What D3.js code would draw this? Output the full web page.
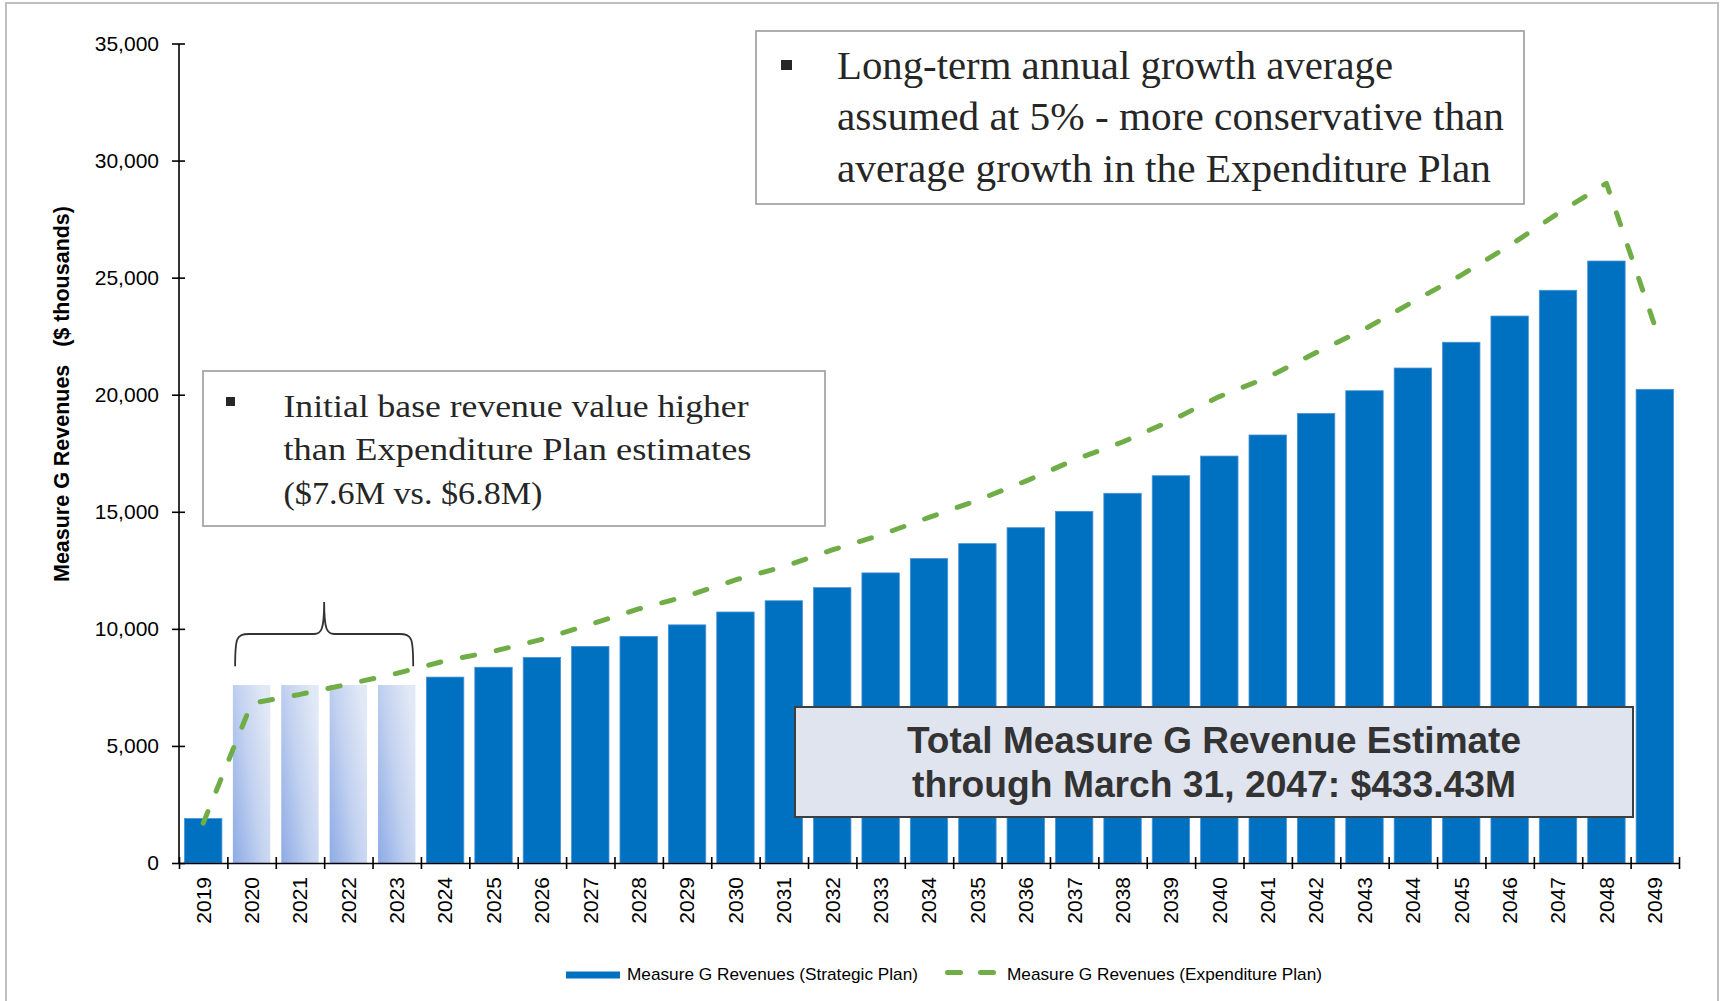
<!DOCTYPE html>
<html>
<head>
<meta charset="utf-8">
<script src="https://cdn.jsdelivr.net/npm/d3@7"></script>
<style>
  html, body { margin: 0; padding: 0; background: #fff; }
  svg { display: block; }
  text { font-family: "Liberation Sans", Arial, sans-serif; }
  .serif { font-family: "Liberation Serif", "Times New Roman", serif; fill: #262626; }
</style>
</head>
<body>
<svg id="chart" width="1723" height="1001"></svg>
<script>
// ---------------- data ----------------
const years = ["2019","2020","2021","2022","2023","2024","2025","2026","2027","2028","2029","2030","2031","2032","2033","2034","2035","2036","2037","2038","2039","2040","2041","2042","2043","2044","2045","2046","2047","2048","2049"];
const strategicPlan = [1900,7600,7600,7600,7600,7940,8360,8780,9250,9680,10170,10720,11200,11760,12390,13000,13640,14320,15020,15790,16540,17380,18280,19200,20170,21140,22240,23360,24460,25710,20230];
const expenditurePlan = [1700,6820,7200,7640,8100,8630,9040,9550,10190,10850,11400,12090,12660,13370,14010,14760,15490,16310,17210,17980,18890,19920,20740,21800,22800,23970,25110,26370,27750,29030,22940];
const initialYears = ["2020","2021","2022","2023"];
const yTicks = [0,5000,10000,15000,20000,25000,30000,35000];
const seriesNames = ["Measure G Revenues (Strategic Plan)", "Measure G Revenues (Expenditure Plan)"];
const yTitle = "Measure G Revenues   ($ thousands)";
const note1 = ["Long-term annual growth average", "assumed at 5% - more conservative than", "average growth in the Expenditure Plan"];
const note2 = ["Initial base revenue value higher", "than Expenditure Plan estimates", "($7.6M vs. $6.8M)"];
const note3 = ["Total Measure G Revenue Estimate", "through March 31, 2047: $433.43M"];

// ---------------- setup ----------------
const svg = d3.select("#chart");
const plotLeft = 179, plotRight = 1679, plotTop = 43.5, plotBottom = 863;

const x = d3.scaleBand().domain(years).range([plotLeft, plotRight])
  .paddingInner(0.227).paddingOuter(0.1135);
const bw = x.bandwidth();
const xEdge = d3.scaleLinear().domain([0, years.length]).range([plotLeft, plotRight]);
const y = d3.scaleLinear().domain([0, 35000]).range([plotBottom, plotTop]);

// outer frame
svg.append("rect").attr("x", 6).attr("y", 3).attr("width", 1712).attr("height", 1020)
  .attr("fill", "#fff").attr("stroke", "#bfbfbf").attr("stroke-width", 2);

// gradient for initial-period bars
const defs = svg.append("defs");
const grad = defs.append("linearGradient").attr("id", "lightGrad")
  .attr("x1", "0").attr("y1", "1").attr("x2", "1").attr("y2", "0.3");
grad.append("stop").attr("offset", "0%").attr("stop-color", "#8dabe6");
grad.append("stop").attr("offset", "55%").attr("stop-color", "#c3d2f0");
grad.append("stop").attr("offset", "100%").attr("stop-color", "#e1e8f6");

// ---------------- bars ----------------
const barData = years.map((yr, i) => ({ year: yr, value: strategicPlan[i] }));
svg.append("g").selectAll("rect").data(barData).join("rect")
  .attr("x", d => x(d.year))
  .attr("y", d => y(d.value))
  .attr("width", bw)
  .attr("height", d => y(0) - y(d.value))
  .attr("fill", d => initialYears.includes(d.year) ? "url(#lightGrad)" : "#0070c0")
  .attr("stroke", d => initialYears.includes(d.year) ? "none" : "#4a93d4")
  .attr("stroke-width", 0.8);

// ---------------- axes ----------------
const yAxis = svg.append("g").attr("transform", `translate(${plotLeft - 0.5},0)`)
  .call(d3.axisLeft(y).tickValues(yTicks).tickSizeInner(6.5).tickSizeOuter(0)
    .tickFormat(d3.format(",")));
yAxis.select(".domain").attr("stroke", "#000").attr("stroke-width", 1.6);
yAxis.selectAll(".tick line").attr("stroke", "#000").attr("stroke-width", 1.6).attr("x2", 6.5).attr("x1", -6.5);
yAxis.selectAll(".tick text").attr("x", -19.5).attr("font-size", 21).attr("fill", "#000")
  .attr("font-family", "'Liberation Sans', Arial, sans-serif");

const xAxis = svg.append("g").attr("transform", `translate(0,${plotBottom})`)
  .call(d3.axisBottom(xEdge).tickValues(d3.range(0, years.length + 1)).tickSizeInner(6).tickSizeOuter(0).tickFormat(""));
xAxis.select(".domain").attr("stroke", "#000").attr("stroke-width", 1.6);
xAxis.selectAll(".tick line").attr("stroke", "#000").attr("stroke-width", 1.6).attr("y1", -6).attr("y2", 6);

// x labels (rotated)
svg.append("g").selectAll("text").data(years).join("text")
  .attr("transform", d => `translate(${x(d) + bw / 2},${plotBottom + 14}) rotate(-90)`)
  .attr("text-anchor", "end").attr("dy", "0.35em")
  .attr("font-size", 21).attr("fill", "#000")
  .text(d => d);

// y title
svg.append("text")
  .attr("transform", `translate(61,394) rotate(-90)`)
  .attr("text-anchor", "middle").attr("dy", "0.35em")
  .attr("font-size", 21.5).attr("font-weight", "bold").attr("fill", "#000")
  .style("white-space", "pre")
  .attr("textLength", 376).attr("lengthAdjust", "spacing")
  .text(yTitle);

// ---------------- expenditure line ----------------
const lineData = years.map((yr, i) => ({ year: yr, value: expenditurePlan[i] }));
const line = d3.line().x(d => x(d.year) + bw / 2).y(d => y(d.value));
svg.append("path").datum(lineData)
  .attr("d", line)
  .attr("fill", "none").attr("stroke", "#70ad47").attr("stroke-width", 5)
  .attr("stroke-linecap", "round").attr("stroke-linejoin", "round")
  .attr("stroke-dasharray", "12.5 22");

// ---------------- brace over initial years ----------------
const bL = x(initialYears[0]) + bw * 0.06;
const bR = x(initialYears[initialYears.length - 1]) + bw * 0.94;
const bM = (bL + bR) / 2;
const yBot = y(8400), yMid = y(9780), yPeak = y(11150);
const r = 14;
const brace = d3.path();
brace.moveTo(bL, yBot);
brace.bezierCurveTo(bL, yMid + 4, bL + 1, yMid, bL + r, yMid);
brace.lineTo(bM - 10, yMid);
brace.bezierCurveTo(bM - 3, yMid, bM, yMid - 4, bM, yPeak);
brace.bezierCurveTo(bM, yMid - 4, bM + 3, yMid, bM + 10, yMid);
brace.lineTo(bR - r, yMid);
brace.bezierCurveTo(bR - 1, yMid, bR, yMid + 4, bR, yBot);
svg.append("path").attr("d", brace.toString())
  .attr("fill", "none").attr("stroke", "#333").attr("stroke-width", 1.8);

// ---------------- annotation boxes ----------------
// box 1
svg.append("rect").attr("x", 756).attr("y", 31).attr("width", 768).attr("height", 173)
  .attr("fill", "#fff").attr("stroke", "#a6a6a6").attr("stroke-width", 1.8);
svg.append("rect").attr("x", 781).attr("y", 60).attr("width", 11).attr("height", 10).attr("fill", "#262626");
const n1w = [556, 667, 654];
svg.append("g").selectAll("text").data(note1).join("text")
  .attr("class", "serif")
  .attr("x", 837).attr("y", (d, i) => 79 + i * 51.3)
  .attr("font-size", 40)
  .attr("textLength", (d, i) => n1w[i]).attr("lengthAdjust", "spacingAndGlyphs")
  .text(d => d);

// box 2
svg.append("rect").attr("x", 203).attr("y", 371).attr("width", 622).attr("height", 155)
  .attr("fill", "#fff").attr("stroke", "#a6a6a6").attr("stroke-width", 1.8);
svg.append("rect").attr("x", 226).attr("y", 397).attr("width", 9).attr("height", 9).attr("fill", "#262626");
const n2w = [465, 468, 259];
svg.append("g").selectAll("text").data(note2).join("text")
  .attr("class", "serif")
  .attr("x", 283.5).attr("y", (d, i) => 416.5 + i * 43.5)
  .attr("font-size", 31)
  .attr("textLength", (d, i) => n2w[i]).attr("lengthAdjust", "spacingAndGlyphs")
  .text(d => d);

// box 3
svg.append("rect").attr("x", 795).attr("y", 707).attr("width", 838).attr("height", 110)
  .attr("fill", "#dfe4ef").attr("stroke", "#3f3f3f").attr("stroke-width", 2);
const n3w = [614, 604];
svg.append("g").selectAll("text").data(note3).join("text")
  .attr("x", 1214).attr("y", (d, i) => 752.7 + i * 44.6)
  .attr("text-anchor", "middle")
  .attr("font-size", 36).attr("font-weight", "bold").attr("fill", "#333")
  .attr("textLength", (d, i) => n3w[i]).attr("lengthAdjust", "spacingAndGlyphs")
  .text(d => d);

// ---------------- legend ----------------
const lg = svg.append("g");
lg.append("rect").attr("x", 566).attr("y", 971.5).attr("width", 54).attr("height", 7).attr("fill", "#0070c0");
lg.append("text").attr("x", 627).attr("y", 980).attr("font-size", 17).attr("fill", "#000")
  .attr("textLength", 291).attr("lengthAdjust", "spacingAndGlyphs").text(seriesNames[0]);
lg.append("line").attr("x1", 947.5).attr("x2", 996).attr("y1", 972.5).attr("y2", 972.5)
  .attr("stroke", "#70ad47").attr("stroke-width", 5).attr("stroke-linecap", "round")
  .attr("stroke-dasharray", "13 20");
lg.append("text").attr("x", 1007).attr("y", 980).attr("font-size", 17).attr("fill", "#000")
  .attr("textLength", 315).attr("lengthAdjust", "spacingAndGlyphs").text(seriesNames[1]);
</script>
</body>
</html>
